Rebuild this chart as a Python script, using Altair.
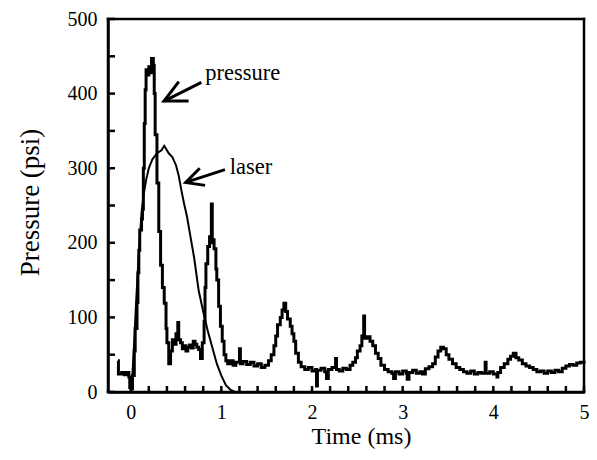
import altair as alt
import pandas as pd

FONT = "Liberation Serif"

# Pressure trace (ms, psi)
p_time = [-0.14, -0.135, -0.10, -0.07, -0.04, -0.02, -0.01, 0.01, 0.02, 0.04, 0.05, 0.07, 0.08, 0.09, 0.10,
          0.12, 0.13, 0.14, 0.15, 0.16, 0.17, 0.19, 0.20, 0.22, 0.23, 0.25, 0.26, 0.27, 0.29, 0.31, 0.33,
          0.35, 0.37, 0.39, 0.40, 0.42, 0.44, 0.46, 0.48, 0.50, 0.52, 0.53, 0.55, 0.57, 0.59, 0.61, 0.63,
          0.65, 0.67, 0.69, 0.71, 0.73, 0.75, 0.77, 0.79, 0.81, 0.82, 0.83, 0.85, 0.87, 0.88, 0.89, 0.90,
          0.92, 0.94, 0.95, 0.97, 0.99, 1.01, 1.03, 1.05, 1.07, 1.10, 1.13, 1.16, 1.20, 1.21, 1.24, 1.28,
          1.32, 1.36, 1.40, 1.44, 1.48, 1.52, 1.55, 1.58, 1.60, 1.62, 1.65, 1.67, 1.69, 1.71, 1.73, 1.76,
          1.78, 1.80, 1.82, 1.85, 1.88, 1.92, 1.96, 2.00, 2.04, 2.05, 2.06, 2.10, 2.14, 2.16, 2.18, 2.22,
          2.26, 2.27, 2.30, 2.34, 2.38, 2.42, 2.45, 2.48, 2.50, 2.53, 2.55, 2.57, 2.58, 2.61, 2.64, 2.67,
          2.70, 2.73, 2.76, 2.80, 2.84, 2.88, 2.90, 2.92, 2.96, 3.00, 3.04, 3.05, 3.07, 3.11, 3.15, 3.19,
          3.22, 3.25, 3.29, 3.33, 3.36, 3.39, 3.42, 3.45, 3.48, 3.51, 3.55, 3.59, 3.63, 3.67, 3.71, 3.75,
          3.79, 3.83, 3.87, 3.91, 3.92, 3.96, 4.00, 4.04, 4.05, 4.08, 4.12, 4.16, 4.19, 4.22, 4.25, 4.28,
          4.32, 4.36, 4.40, 4.44, 4.48, 4.52, 4.56, 4.60, 4.64, 4.68, 4.72, 4.76, 4.80, 4.84, 4.88, 4.92,
          4.96, 5.00]
p_psi = [42, 24, 26, 23, 26, 20, 6, 4, 22, 55, 85, 120, 160, 190, 217,
         232, 245, 300, 360, 405, 432, 425, 436, 428, 447, 438, 400, 345, 280, 215, 170,
         140, 119, 85, 66, 38, 55, 70, 64, 78, 93, 70, 66, 58, 62, 55, 60,
         63, 59, 68, 64, 60, 57, 45, 66, 95, 140, 172, 195, 208, 200, 252, 204,
         192, 165, 150, 115, 88, 68, 50, 42, 38, 42, 36, 40, 58, 38, 41, 37,
         40, 35, 38, 33, 36, 42, 50, 62, 75, 90, 100, 110, 119, 108, 98, 88,
         78, 68, 52, 40, 34, 30, 33, 28, 30, 8, 29, 32, 27, 18, 30, 33,
         45, 30, 28, 32, 30, 36, 40, 46, 55, 62, 75, 102, 72, 74, 68, 62,
         52, 45, 36, 30, 27, 25, 18, 27, 24, 28, 25, 17, 26, 29, 25, 27,
         24, 31, 34, 38, 47, 55, 60, 58, 50, 44, 38, 33, 30, 27, 25, 28,
         24, 26, 25, 40, 25, 27, 24, 20, 26, 33, 38, 44, 48, 52, 46, 43,
         38, 35, 33, 30, 27, 28, 25, 28, 26, 29, 27, 32, 35, 37, 36, 39,
         40, 38]

# Laser trace (ms, psi-scaled)
l_time = [0.00, 0.02, 0.04, 0.06, 0.08, 0.10, 0.12, 0.14, 0.17, 0.20, 0.24, 0.29, 0.34, 0.37, 0.39,
          0.42, 0.46, 0.50, 0.53, 0.56, 0.59, 0.62, 0.66, 0.70, 0.75, 0.80, 0.85, 0.90, 0.95, 1.00,
          1.05, 1.10, 1.15, 1.25]
l_psi = [0, 25, 70, 120, 165, 205, 240, 262, 284, 300, 312, 320, 324, 330, 326,
         320, 315, 304, 290, 270, 252, 236, 208, 180, 136, 108, 82, 60, 38, 22,
         9, 3, 0, 0]

# Annotations
ann_text = ["pressure", "laser"]
ann_t = [0.823, 1.094]
ann_p = [418, 292]
tip_t = [0.368, 0.607]
tip_p = [390, 281]
tail_t = [0.78, 1.04]
tail_p = [415, 298]
wa_t = [0.531, 0.762]
wa_p = [416, 300]
wb_t = [0.639, 0.821]
wb_p = [390, 277]

X_DOMAIN = [-0.25, 5]
Y_DOMAIN = [0, 500]
x_labels = [0, 1, 2, 3, 4, 5]
y_labels = [0, 100, 200, 300, 400, 500]
x_ticks = [round(0.2 * i, 1) for i in range(0, 26)]
y_ticks = [50 * i for i in range(0, 11)]

W, H = 476, 373
YTICK_PX, XTICK_PX, LINE_PX = 7, 6, 2.5

press_df = pd.DataFrame({"t": p_time, "p": p_psi})
laser_df = pd.DataFrame({"t": l_time, "p": l_psi})
ann_df = pd.DataFrame({"label": ann_text, "t": ann_t, "p": ann_p})

arrow_rows = []
for i in range(len(tip_t)):
    arrow_rows.append({"g": f"s{i}", "o": 0, "t": tail_t[i], "p": tail_p[i]})
    arrow_rows.append({"g": f"s{i}", "o": 1, "t": tip_t[i], "p": tip_p[i]})
    arrow_rows.append({"g": f"h{i}", "o": 0, "t": wa_t[i], "p": wa_p[i]})
    arrow_rows.append({"g": f"h{i}", "o": 1, "t": tip_t[i], "p": tip_p[i]})
    arrow_rows.append({"g": f"h{i}", "o": 2, "t": wb_t[i], "p": wb_p[i]})
arrow_df = pd.DataFrame(arrow_rows)

# frame border and inward ticks as thin filled rectangles
xu = (X_DOMAIN[1] - X_DOMAIN[0]) / W   # data units per pixel (x)
yu = (Y_DOMAIN[1] - Y_DOMAIN[0]) / H   # data units per pixel (y)
hx, hy = LINE_PX / 2 * xu, LINE_PX / 2 * yu
x0, x1 = X_DOMAIN
y0, y1 = Y_DOMAIN
rect_rows = [
    {"t": x0 - hx, "t2": x1 + hx, "p": y0 - hy, "p2": y0 + hy},
    {"t": x0 - hx, "t2": x1 + hx, "p": y1 - hy, "p2": y1 + hy},
    {"t": x0 - hx, "t2": x0 + hx, "p": y0 - hy, "p2": y1 + hy},
    {"t": x1 - hx, "t2": x1 + hx, "p": y0 - hy, "p2": y1 + hy},
]
for v in y_ticks:
    rect_rows.append({"t": x0, "t2": x0 + YTICK_PX * xu, "p": v - hy, "p2": v + hy})
for v in x_ticks:
    rect_rows.append({"t": v - hx, "t2": v + hx, "p": y0, "p2": y0 + XTICK_PX * yu})
rect_df = pd.DataFrame(rect_rows)

xs = alt.Scale(domain=X_DOMAIN, nice=False, zero=False)
ys = alt.Scale(domain=Y_DOMAIN, nice=False)

x_axis = alt.Axis(values=x_labels, format="d", title="Time (ms)", labelFont=FONT, labelFontSize=20,
                  labelColor="black", ticks=False, domain=True, domainColor="black", domainWidth=2.5,
                  grid=False, labelPadding=10,
                  labelAngle=0, labelFlush=False, labelOverlap=False,
                  titleFont=FONT, titleFontSize=24, titleFontWeight="normal",
                  titleColor="black", titleX=253, titleY=51, titleBaseline="alphabetic")
y_axis = alt.Axis(values=y_labels, format="d", title="Pressure (psi)", labelFont=FONT,
                  labelFontSize=20, labelColor="black", ticks=False, domain=True, domainColor="black",
                  domainWidth=2.5, grid=False,
                  labelPadding=11, labelFlush=False, labelOverlap=False,
                  titleFont=FONT, titleFontSize=27, titleFontWeight="normal",
                  titleColor="black", titleX=-70, titleY=183, titleBaseline="alphabetic")

pressure = alt.Chart(press_df).mark_line(interpolate="step-after", color="black", strokeWidth=3).encode(
    x=alt.X("t:Q", scale=xs, axis=x_axis),
    y=alt.Y("p:Q", scale=ys, axis=y_axis),
)
laser = alt.Chart(laser_df).mark_line(color="black", strokeWidth=2).encode(
    x=alt.X("t:Q", scale=xs), y=alt.Y("p:Q", scale=ys)
)
frame = alt.Chart(rect_df).mark_rect(color="black", opacity=1).encode(
    x=alt.X("t:Q", scale=xs), x2="t2:Q", y=alt.Y("p:Q", scale=ys), y2="p2:Q"
)
arrows = alt.Chart(arrow_df).mark_line(color="black", strokeWidth=3, strokeJoin="miter").encode(
    x=alt.X("t:Q", scale=xs), y=alt.Y("p:Q", scale=ys), detail="g:N", order="o:Q"
)
texts = alt.Chart(ann_df).mark_text(font=FONT, fontSize=22.5, color="black", align="left",
                                    baseline="alphabetic").encode(
    x=alt.X("t:Q", scale=xs), y=alt.Y("p:Q", scale=ys), text="label:N"
)

chart = alt.layer(pressure, laser, frame, arrows, texts).properties(
    width=W, height=H,
    autosize=alt.AutoSizeParams(type="none"),
    padding={"left": 100, "top": 11, "right": 5, "bottom": 58},
    background="white",
).configure_view(stroke="black", strokeWidth=2)

chart.save("out.html", embed_options={"renderer": "svg", "actions": False})
